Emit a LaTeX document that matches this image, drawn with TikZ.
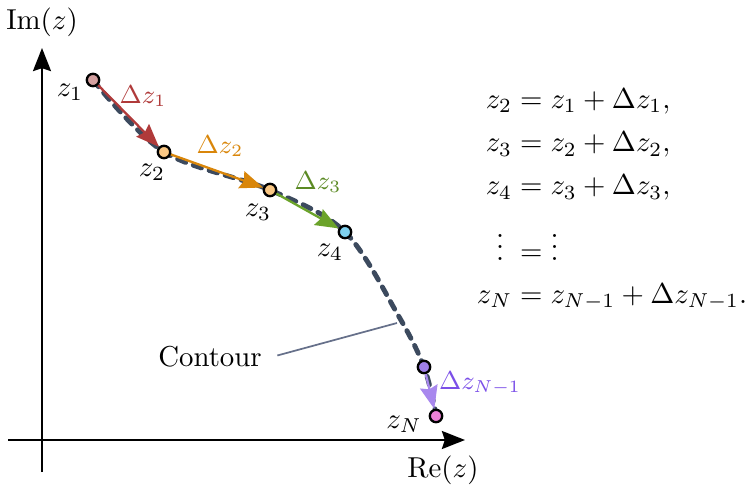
\documentclass[tikz,border=0pt]{standalone}
\usepackage{amsmath}
\usetikzlibrary{arrows.meta}

\definecolor{dzred}{HTML}{B03A3A}
\definecolor{dzorange}{HTML}{D9860A}
\definecolor{dzgreen}{HTML}{6BA32A}
\definecolor{dzpurple}{HTML}{A888EE}
\definecolor{dzpurpletext}{HTML}{7B4FE8}
\definecolor{fillone}{HTML}{D4A0A0}
\definecolor{filltwo}{HTML}{F9C784}
\definecolor{fillfour}{HTML}{7ED0EE}
\definecolor{fillnm}{HTML}{9F7FE8}
\definecolor{filln}{HTML}{EE82D6}
\definecolor{contourcol}{HTML}{3C4A5E}
\definecolor{leadercol}{HTML}{66708A}

\tikzset{
  pt/.style={circle, draw, line width=0.8pt, inner sep=0pt, minimum size=4.3pt},
  dz/.style={line width=0.8pt, ->},
  dzlabel/.style={font=\small},
  contour/.style={line width=1.7pt, contourcol, dash pattern=on 3pt off 2.8pt, line cap=round},
  axis/.style={line width=1pt, ->}
}

\begin{document}
\begin{tikzpicture}[x=0.0122cm, y=-0.0122cm, >={Stealth[length=8pt,width=6.2pt,inset=1pt]}]
  \useasboundingbox (0,0) rectangle (751,487);

  % axes
  \coordinate (ybot) at (42,472);
  \coordinate (ytop) at (42,48);
  \coordinate (xleft) at (8,440);
  \coordinate (xright) at (465,440);
  \draw[axis] (ybot) -- (ytop);
  \draw[axis] (xleft) -- (xright);
  \node (im) at (42,22) {$\mathrm{Im}(z)$};
  \node (re) at (443,470) {$\mathrm{Re}(z)$};

  % contour
  \draw[contour] plot[smooth, tension=0.55] coordinates
    {(93,80) (164,152) (270,190) (345,232) (398,315) (424,367) (436,414)};

  % points
  \node[pt, fill=fillone] (z1) at (93,80) {};
  \node[pt, fill=filltwo] (z2) at (164,152) {};
  \node[pt, fill=filltwo] (z3) at (270,190) {};
  \node[pt, fill=fillfour] (z4) at (345,232) {};
  \node[pt, fill=fillnm] (zm) at (424,367) {};
  \node[pt, fill=filln] (zn) at (436,416) {};

  % steps
  \draw[dz, dzred] (z1) -- (z2);
  \draw[dz, dzorange] (z2) -- (z3);
  \draw[dz, dzgreen] (z3) -- (z4);
  \draw[dz, dzpurple] (zm) -- (zn);

  \node[dzlabel, dzred] (d1) at (143,96) {$\Delta z_1$};
  \node[dzlabel, dzorange] (d2) at (220,146) {$\Delta z_2$};
  \node[dzlabel, dzgreen!85!black] (d3) at (318,182) {$\Delta z_3$};
  \node[dzlabel, dzpurpletext] (dm) at (480,383) {$\Delta z_{N-1}$};

  \node (l1) at (70,92) {$z_1$};
  \node (l2) at (152,172) {$z_2$};
  \node (l3) at (258,212) {$z_3$};
  \node (l4) at (330,252) {$z_4$};
  \node (ln) at (404,424) {$z_N$};

  % label for the path
  \node (contourlbl) at (210,357) {Contour};
  \coordinate (ctip) at (397,323);
  \draw[leadercol, line width=0.6pt, shorten <=2pt] (contourlbl.east) -- (ctip);

  % equations
  \node (eqs) at (612,199) {$\begin{aligned}
    z_2 &= z_1 + \Delta z_1,\\
    z_3 &= z_2 + \Delta z_2,\\
    z_4 &= z_3 + \Delta z_3,\\
    \vdots\; &= \vdots\\
    z_N &= z_{N-1} + \Delta z_{N-1}.
  \end{aligned}$};
\end{tikzpicture}
\end{document}
